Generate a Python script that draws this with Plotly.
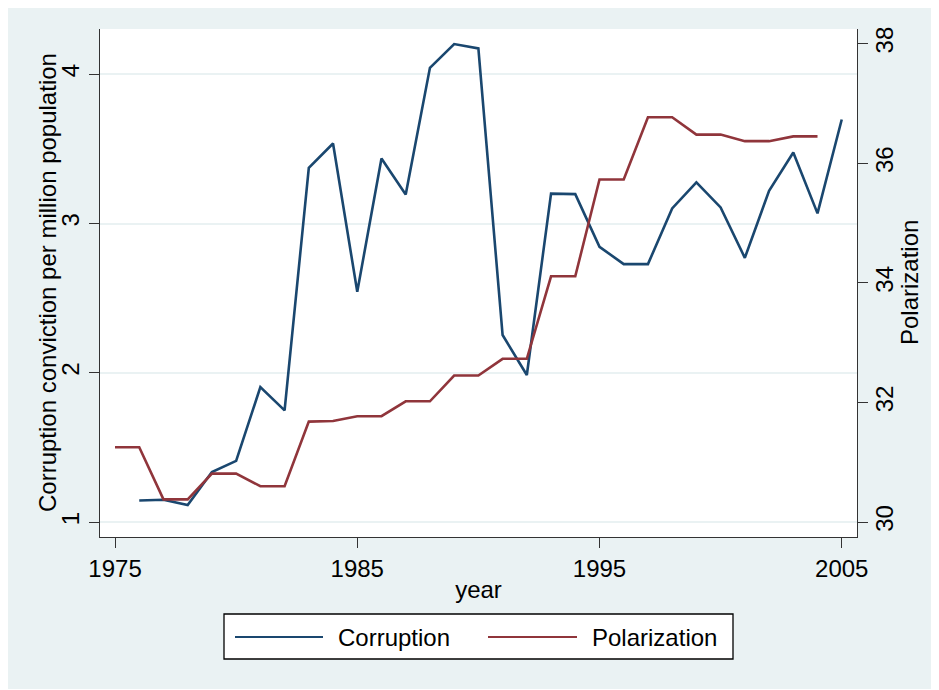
import plotly.graph_objects as go

# ---- data ----
years_corruption = list(range(1976, 2006))
corruption = [1.145, 1.15, 1.114, 1.335, 1.41, 1.904, 1.748, 3.373, 3.536, 2.543,
              3.436, 3.195, 4.043, 4.202, 4.173, 2.253, 1.985, 3.2, 3.197, 2.844,
              2.728, 2.728, 3.101, 3.275, 3.108, 2.77, 3.219, 3.476, 3.068, 3.697]
years_polarization = list(range(1975, 2005))
polarization = [31.25, 31.25, 30.38, 30.38, 30.81, 30.81, 30.60, 30.60, 31.68, 31.69,
                31.77, 31.77, 32.02, 32.02, 32.45, 32.45, 32.73, 32.73, 34.11, 34.11,
                35.73, 35.73, 36.77, 36.77, 36.48, 36.48, 36.37, 36.37, 36.45, 36.45]
x_ticks = [1975, 1985, 1995, 2005]
left_ticks = [1, 2, 3, 4]
right_ticks = [30, 32, 34, 36, 38]
series_names = ["Corruption", "Polarization"]
x_title = "year"
left_title = "Corruption conviction per million population"
right_title = "Polarization"

NAVY = "#1a476f"
MAROON = "#90353b"
BG = "#eaf2f3"
FONT = "Liberation Sans, Arial, Helvetica, sans-serif"

OFF = 8  # page offset of the figure (body margin)
W, H = 939 - OFF, 690 - OFF
# plot area in page pixels
PL, PR, PT, PB = 100, 857, 29, 537
L, R, T, B = PL - OFF, PR - OFF, PT - OFF, PB - OFF


def px(x):
    return (x - PL) / (PR - PL)


def py(y):
    return (PB - y) / (PB - PT)


fig = go.Figure()
fig.add_trace(go.Scatter(x=years_corruption, y=corruption, mode="lines",
                         name=series_names[0], line=dict(color=NAVY, width=2.6),
                         yaxis="y", showlegend=False))
fig.add_trace(go.Scatter(x=years_polarization, y=polarization, mode="lines",
                         name=series_names[1], line=dict(color=MAROON, width=2.6),
                         yaxis="y2", showlegend=False))

shapes = [
    dict(type="rect", xref="paper", yref="paper", x0=px(OFF), x1=px(945), y0=py(689), y1=py(OFF - 3),
         fillcolor=BG, line=dict(width=0), layer="below"),
    dict(type="rect", xref="paper", yref="paper", x0=0, x1=1, y0=0, y1=1,
         fillcolor="white", line=dict(width=0), layer="below"),
    dict(type="rect", xref="paper", yref="paper", x0=px(224), x1=px(733), y0=py(659), y1=py(614),
         fillcolor="white", line=dict(color="black", width=1.3)),
    dict(type="line", xref="paper", yref="paper", x0=px(235), x1=px(323), y0=py(637), y1=py(637),
         line=dict(color=NAVY, width=2.2)),
    dict(type="line", xref="paper", yref="paper", x0=px(488), x1=px(577), y0=py(637), y1=py(637),
         line=dict(color=MAROON, width=2.2)),
]
TXT_FONT = dict(size=24, color="black", family=FONT)
annotations = [
    dict(xref="paper", yref="paper", x=px(336), y=py(637), text=series_names[0],
         showarrow=False, xanchor="left", yanchor="middle", font=TXT_FONT),
    dict(xref="paper", yref="paper", x=px(590), y=py(637), text=series_names[1],
         showarrow=False, xanchor="left", yanchor="middle", font=TXT_FONT),
    dict(xref="paper", yref="paper", x=px(47), y=py(283), text=left_title, textangle=-90,
         showarrow=False, xanchor="center", yanchor="middle", font=TXT_FONT),
    dict(xref="paper", yref="paper", x=px(909), y=py(283), text=right_title, textangle=-90,
         showarrow=False, xanchor="center", yanchor="middle", font=TXT_FONT),
]

axis_common = dict(showline=True, linecolor="#333333", linewidth=1.4, ticks="outside",
                   ticklen=10, tickwidth=1.4, tickcolor="#333333", zeroline=False,
                   automargin=False,
                   tickfont=dict(size=24, color="black", family=FONT))

fig.update_layout(
    width=W, height=H,
    margin=dict(l=L, r=W - R, t=T, b=H - B, autoexpand=False),
    paper_bgcolor="white", plot_bgcolor="rgba(0,0,0,0)",
    font=dict(family=FONT, color="black", size=24),
    xaxis=dict(range=[1974.38, 2005.63], tickvals=x_ticks, showgrid=False,
               title=dict(text=x_title, font=TXT_FONT, standoff=0), **axis_common),
    yaxis=dict(range=[0.9, 4.303], tickvals=left_ticks, showgrid=True, gridcolor=BG, gridwidth=1.6,
               tickangle=-90, **axis_common),
    yaxis2=dict(range=[29.75, 38.246], tickvals=right_ticks, overlaying="y", side="right",
                showgrid=False, tickangle=-90, ticklabelstandoff=-4, **axis_common),
    shapes=shapes, annotations=annotations,
)

fig.write_html("out.html")
